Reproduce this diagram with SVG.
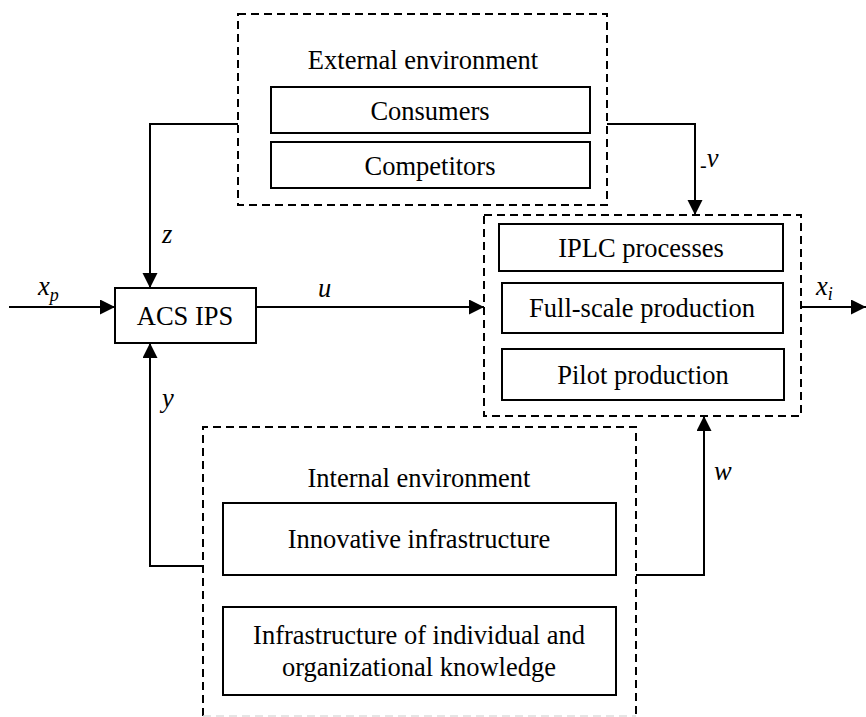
<svg xmlns="http://www.w3.org/2000/svg" width="866" height="717" viewBox="0 0 866 717" font-family="Liberation Serif, Times New Roman, serif" font-size="26.5">
  <style>
    .box { fill: none; stroke: #000; stroke-width: 2; }
    .env { fill: none; stroke: #000; stroke-width: 2; stroke-dasharray: 8 5; }
    .wire { fill: none; stroke: #000; stroke-width: 2; }
    .t { text-anchor: middle; fill: #000; }
    .v { font-style: italic; fill: #000; }
    .sub { font-size: 18px; }
  </style>
  <defs>
    <marker id="arrow" markerUnits="userSpaceOnUse" markerWidth="16" markerHeight="16" refX="15" refY="7.5" orient="auto">
      <path d="M0,0 L15,7.5 L0,15 Z" fill="#000"/>
    </marker>
  </defs>
  <rect width="866" height="717" fill="#fff"/>

  <!-- External environment -->
  <g id="external-environment">
    <rect class="env" x="238" y="14" width="369" height="191"/>
    <text class="t" x="423" y="69">External environment</text>
    <g id="consumers">
      <rect class="box" x="271" y="87" width="319" height="46"/>
      <text class="t" x="430" y="120">Consumers</text>
    </g>
    <g id="competitors">
      <rect class="box" x="271" y="142" width="319" height="46"/>
      <text class="t" x="430" y="175">Competitors</text>
    </g>
  </g>

  <!-- Control system -->
  <g id="acs-ips">
    <rect class="box" x="115" y="288" width="141" height="55"/>
    <text class="t" x="185" y="325">ACS IPS</text>
  </g>

  <!-- Innovation product life cycle -->
  <g id="iplc">
    <rect class="env" x="484" y="215" width="317" height="201"/>
    <g id="iplc-processes">
      <rect class="box" x="499" y="224" width="284" height="47"/>
      <text class="t" x="641" y="257">IPLC processes</text>
    </g>
    <g id="full-scale-production">
      <rect class="box" x="502" y="283" width="281" height="50"/>
      <text class="t" x="642" y="317">Full-scale production</text>
    </g>
    <g id="pilot-production">
      <rect class="box" x="502" y="349" width="282" height="51"/>
      <text class="t" x="643" y="384">Pilot production</text>
    </g>
  </g>

  <!-- Internal environment -->
  <g id="internal-environment">
    <path class="env" d="M203,716 V427 H636 V716"/>
    <path d="M203,716 H636" fill="none" stroke="#ddd" stroke-width="1.5" stroke-dasharray="8 5"/>
    <text class="t" x="419" y="487">Internal environment</text>
    <g id="innovative-infrastructure">
      <rect class="box" x="223" y="503" width="393" height="72"/>
      <text class="t" x="419" y="548">Innovative infrastructure</text>
    </g>
    <g id="knowledge-infrastructure">
      <rect class="box" x="223" y="607" width="393" height="88"/>
      <text class="t" x="419" y="644">Infrastructure of individual and</text>
      <text class="t" x="419" y="676">organizational knowledge</text>
    </g>
  </g>

  <!-- Connectors -->
  <g id="connectors">
    <path class="wire" d="M9,307 H115" marker-end="url(#arrow)"/>
    <path class="wire" d="M256,307 H484" marker-end="url(#arrow)"/>
    <path class="wire" d="M801,307 H866" marker-end="url(#arrow)"/>
    <path class="wire" d="M238,124 H150 V288" marker-end="url(#arrow)"/>
    <path class="wire" d="M607,124 H695 V215" marker-end="url(#arrow)"/>
    <path class="wire" d="M203,566 H150 V343" marker-end="url(#arrow)"/>
    <path class="wire" d="M636,575 H704 V416" marker-end="url(#arrow)"/>
  </g>

  <!-- Signal labels -->
  <g id="labels">
    <text class="v" x="38" y="295">x<tspan class="sub" dy="6">p</tspan></text>
    <text class="v" x="318" y="297">u</text>
    <text class="v" x="816" y="295">x<tspan class="sub" dy="5">i</tspan></text>
    <text class="v" x="162" y="243">z</text>
    <text class="v" x="162" y="407">y</text>
    <text class="v" x="700" y="167"><tspan font-style="normal" font-size="20" dy="5">-</tspan><tspan dy="-5">v</tspan></text>
    <text class="v" x="714" y="480">w</text>
  </g>
</svg>
